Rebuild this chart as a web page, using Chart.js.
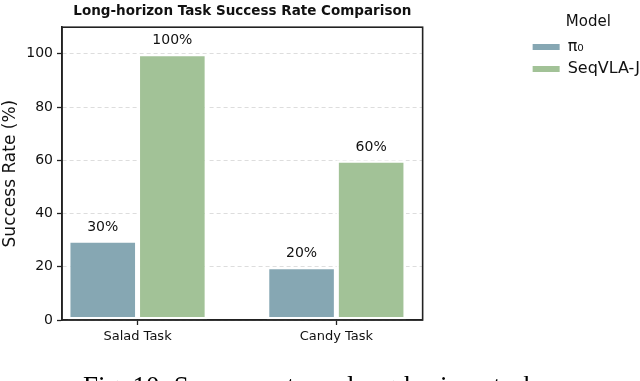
<!DOCTYPE html>
<html>
<head>
<meta charset="utf-8">
<script src="https://cdn.jsdelivr.net/npm/chart.js@4"></script>
<style>
  html, body { margin: 0; padding: 0; background: #fff; }
  #wrap { position: relative; width: 640px; height: 381px; overflow: hidden; }
  #caption { position: absolute; left: 83px; top: 371px; font: 27px "Liberation Serif", serif; color: #000; white-space: nowrap; }
</style>
</head>
<body>
<div id="wrap">
  <canvas id="c" width="640" height="381"></canvas>
  <div id="caption">Fig. 10: Success rate on long-horizon tasks.</div>
</div>
<script>
// data
const tasks = ["Salad Task", "Candy Task"];
const models = ["π₀", "SeqVLA-J"];
const pi0 = [30, 20];
const seqvla = [100, 60];
const yTicks = [0, 20, 40, 60, 80, 100];

const COLORS = ["#86a7b3", "#a2c297"];
const FONT = "'DejaVu Sans', sans-serif";
const INK = "#222";
Chart.defaults.font.family = FONT;
Chart.defaults.color = "#111";

const series = [pi0, seqvla];

// frame round the plot + value labels above bars
const frame = {
  id: "frame",
  afterDatasetsDraw(chart) {
    const { ctx, chartArea: a } = chart;
    ctx.save();
    ctx.font = `14px ${FONT}`;
    ctx.fillStyle = "#111";
    ctx.textAlign = "center";
    ctx.textBaseline = "middle";
    chart.data.datasets.forEach((ds, i) => {
      chart.getDatasetMeta(i).data.forEach((el, j) => {
        ctx.fillText(`${series[i][j]}%`, el.x, el.y - 13);
      });
    });
    ctx.strokeStyle = INK;
    ctx.lineWidth = 1.6;
    ctx.strokeRect(a.left, a.top, a.right - a.left, a.bottom - a.top);
    ctx.restore();
  },
};

new Chart(document.getElementById("c"), {
  type: "bar",
  data: {
    datasets: models.map((m, i) => ({
      label: m,
      data: series[i].map((v, j) => ({ x: j, y: v })),
      backgroundColor: COLORS[i],
      borderColor: "#fff",
      borderWidth: 2.5,
      borderSkipped: false,
    })),
  },
  options: {
    responsive: false,
    animation: false,
    categoryPercentage: 0.7,
    barPercentage: 1,
    layout: { padding: { top: 0, right: -10, bottom: 0, left: 0 } },
    plugins: {
      title: {
        display: true,
        text: "Long-horizon Task Success Rate Comparison",
        fullSize: false,
        font: { size: 13.5, weight: "bold" },
        color: "#111",
        padding: { top: 3, bottom: 8 },
      },
      legend: {
        position: "right",
        align: "start",
        maxWidth: 200,
        title: { display: true, text: "Model", font: { size: 15 }, color: "#111", padding: { top: 15, bottom: 0 } },
        labels: {
          boxWidth: 27, boxHeight: 6, padding: 6, font: { size: 16 }, color: "#111",
          generateLabels: (chart) => Chart.defaults.plugins.legend.labels.generateLabels(chart)
            .map((l) => ({ ...l, lineWidth: 0, strokeStyle: "rgba(0,0,0,0)" })),
        },
      },
      tooltip: { enabled: false },
    },
    scales: {
      x: {
        type: "linear",
        min: -0.38,
        max: 1.434,
        offset: false,
        afterBuildTicks: (s) => { s.ticks = tasks.map((_, i) => ({ value: i })); },
        afterFit: (s) => { s.height = 61; },
        ticks: { callback: (v) => tasks[v] ?? "", font: { size: 13 }, color: "#111", padding: 4 },
        grid: { offset: false, drawOnChartArea: false, tickLength: 5, tickColor: INK, tickWidth: 1.3 },
        border: { color: INK, width: 1.6 },
      },
      y: {
        min: 0,
        max: 110,
        afterBuildTicks: (s) => { s.ticks = yTicks.map((v) => ({ value: v })); },
        afterFit: (s) => { s.width = 62; },
        title: { display: true, text: "Success Rate (%)", font: { size: 17 }, color: "#111", padding: { top: 0, bottom: 2 } },
        ticks: { font: { size: 14 }, color: "#111", padding: 4 },
        grid: { color: "#dddddd", lineWidth: 1, tickLength: 5, tickColor: INK, tickWidth: 1.3 },
        border: { color: INK, width: 1.6, dash: [4, 3] },
      },
      gap: {
        position: "right",
        afterFit: (s) => { s.width = 104; },
        ticks: { display: false },
        grid: { display: false },
        border: { display: false },
      },
    },
  },
  plugins: [frame],
});
</script>
</body>
</html>
